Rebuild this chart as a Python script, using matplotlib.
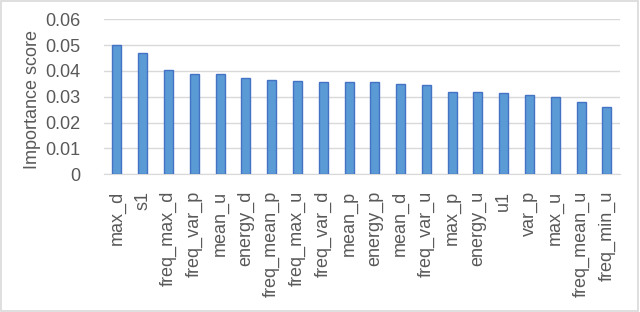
import matplotlib
matplotlib.use("Agg")
import matplotlib.pyplot as plt
from matplotlib.patches import Rectangle

features = ["max_d", "s1", "freq_max_d", "freq_var_p", "mean_u", "energy_d",
            "freq_mean_p", "freq_max_u", "freq_var_d", "mean_p", "energy_p",
            "mean_d", "freq_var_u", "max_p", "energy_u", "u1", "var_p",
            "max_u", "freq_mean_u", "freq_min_u"]
scores = [0.0500, 0.0469, 0.0402, 0.0388, 0.0388, 0.0371, 0.0364, 0.0360,
          0.0357, 0.0357, 0.0357, 0.0349, 0.0345, 0.0320, 0.0320, 0.0315,
          0.0307, 0.0300, 0.0278, 0.0259]
yticks = [0, 0.01, 0.02, 0.03, 0.04, 0.05, 0.06]
ytick_labels = ["0", "0.01", "0.02", "0.03", "0.04", "0.05", "0.06"]

plt.rcParams['font.family'] = ['Liberation Sans', 'DejaVu Sans']
txt = "#595959"

fig = plt.figure(figsize=(6.4, 3.12), dpi=100)
fig.patches.append(Rectangle((0.002, 0.003), 0.995, 0.993, transform=fig.transFigure,
                             fill=False, edgecolor="#D9D9D9", linewidth=1.2))
ax = fig.add_axes([0.1625, 0.442, 0.806, 0.496])

x = range(len(features))
ax.bar(x, scores, width=0.35, color="#5B9BD5", edgecolor="#4472C4", linewidth=1.0, zorder=3)

ax.set_xlim(-0.5, len(features) - 0.5)
ax.set_ylim(0, 0.06)
ax.set_yticks(yticks)
ax.set_yticklabels(ytick_labels)
ax.set_xticks(list(x))
ax.set_xticklabels(features, rotation=90)
ax.grid(axis="y", color="#D9D9D9", linewidth=1.0, zorder=0)
for s in ["top", "right", "left"]:
    ax.spines[s].set_visible(False)
ax.spines["bottom"].set_color("#D9D9D9")
ax.tick_params(axis="y", length=0, pad=17, labelsize=13, labelcolor=txt)
ax.tick_params(axis="x", length=0, pad=12, labelsize=13, labelcolor=txt)
ax.set_ylabel("Importance score", fontsize=13, color=txt)
ax.yaxis.set_label_coords(-0.122, 0.485)

fig.savefig("out.png", dpi=100)
